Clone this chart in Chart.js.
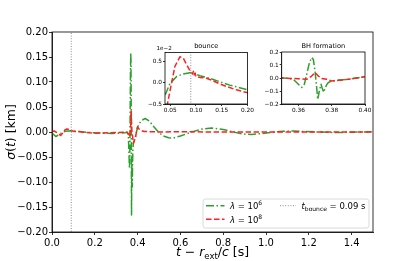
<!DOCTYPE html>
<html><head><meta charset="utf-8">
<script src="https://cdn.jsdelivr.net/npm/chart.js@4.4.1/dist/chart.umd.min.js"></script>
<style>
html,body{margin:0;padding:0;background:#fff;}
#wrap{position:relative;width:415px;height:261px;overflow:hidden;}
canvas{position:absolute;}
</style></head><body>
<div id="wrap">
<canvas id="main" width="415" height="261" style="left:0;top:0;width:415px;height:261px"></canvas>
<canvas id="bounce" width="130" height="84" style="left:125px;top:36px;width:130px;height:84px"></canvas>
<canvas id="bh" width="115" height="84" style="left:260px;top:36px;width:115px;height:84px"></canvas>
</div>
<script>
// ---------------- data ----------------
const tGreen = [0.000,0.005,0.018,0.030,0.040,0.0496,0.0626,0.0753,0.0882,0.0946,0.1075,0.1268,0.146,0.1653,0.1847,0.2006,0.24,0.28,0.32,0.34,0.35,
  0.354,0.357,0.360,0.362,0.3636,0.365,0.3666,0.368,0.369,0.370,0.371,0.3716,0.3726,0.3736,0.3742,0.3752,0.3762,0.3772,0.378,0.380,0.384,0.390,0.396,0.400,
  0.415,0.435,0.455,0.475,0.497,0.52,0.545,0.567,0.60,0.653,0.70,0.746,0.80,0.847,0.89,0.933,0.98,1.04,1.08,1.13,1.18,1.25,1.32,1.40,1.50];
const sigmaGreen = [-0.002,-0.004,-0.009,-0.006,-0.003,-0.0002,0.0014,0.0020,0.0023,0.0022,0.0016,0.0010,0.0002,-0.0006,-0.0012,-0.0017,-0.0024,-0.0028,-0.0025,-0.0015,-0.0005,
  -0.003,-0.010,-0.048,-0.073,-0.048,0.028,0.116,0.158,0.142,0.053,-0.073,-0.166,-0.100,-0.048,-0.073,-0.110,-0.073,-0.048,-0.035,-0.023,-0.018,-0.010,0.0025,0.010,
  0.022,0.027,0.022,0.011,0.0,-0.008,-0.0115,-0.012,-0.008,0.0,0.006,0.008,0.005,0.0,-0.004,-0.005,-0.003,0.0,0.0015,0.002,0.001,0.0,-0.001,-0.0005,0.0005];

const tRed = [0.000,0.010,0.030,0.040,0.0444,0.0529,0.0593,0.0689,0.0753,0.0818,0.0882,0.0934,0.0950,0.0965,0.0985,0.0998,0.1075,0.1204,0.1331,0.146,0.1589,0.1782,0.2006,0.24,0.30,0.35,
  0.360,0.365,0.368,0.370,0.372,0.374,0.377,0.380,0.384,0.390,0.396,0.400,0.410,0.430,0.50,0.60,0.80,1.00,1.20,1.50];
const sigmaRed = [0.001,0.002,-0.003,-0.007,-0.0052,0.0,0.0038,0.0060,0.0057,0.0042,0.0028,0.0020,0.0026,0.0018,0.0022,0.0014,0.0012,0.0010,0.0004,-0.0003,-0.0009,-0.0017,-0.0024,-0.002,-0.001,0.0,
  -0.005,-0.010,0.015,0.042,0.015,-0.003,-0.010,-0.023,-0.018,-0.010,0.0025,0.010,0.004,0.001,0.0,0.0005,0.0,0.0,0.0,0.0];

const tBounce = 0.09;
const seriesLabels = ['λ = 10^6', 'λ = 10^8', 't_bounce = 0.09 s'];

const mainXTicks = [0.0,0.2,0.4,0.6,0.8,1.0,1.2,1.4];
const mainXTickLabels = ['0.0','0.2','0.4','0.6','0.8','1.0','1.2','1.4'];
const mainYTicks = [-0.20,-0.15,-0.10,-0.05,0.00,0.05,0.10,0.15,0.20];
const mainYTickLabels = ['\u22120.20','\u22120.15','\u22120.10','\u22120.05','0.00','0.05','0.10','0.15','0.20'];

const bounceXTicks = [0.05,0.10,0.15,0.20];
const bounceXTickLabels = ['0.05','0.10','0.15','0.20'];
const bounceYTicks = [-0.005,0.0,0.005];
const bounceYTickLabels = ['\u22120.5','0.0','0.5'];

const bhXTicks = [0.36,0.38,0.40];
const bhXTickLabels = ['0.36','0.38','0.40'];
const bhYTicks = [-0.2,-0.1,0.0,0.1,0.2];
const bhYTickLabels = ['\u22120.2','\u22120.1','0.0','0.1','0.2'];

// ---------------- styles ----------------
const GREEN = '#2ca02c', RED = '#ff2020', GRAY = '#8c8c8c';
const DASHDOT = [8, 2.5, 1.5, 2.5], DASHED = [5.5, 2.5], DOTTED = [1, 1.6];
const FONT = "'DejaVu Sans'";

function pts(ts, vs){ return ts.map((t,i)=>({x:t,y:vs[i]})); }
function datasets(withBounce, lw){
  const d = [
    {label:seriesLabels[0], data:pts(tGreen,sigmaGreen), borderColor:GREEN, borderDash:DASHDOT, borderWidth:lw, order:2},
    {label:seriesLabels[1], data:pts(tRed,sigmaRed), borderColor:RED, borderDash:DASHED, borderWidth:lw, order:1}
  ];
  if (withBounce) d.push({label:seriesLabels[2], data:[{x:tBounce,y:-1},{x:tBounce,y:1}], borderColor:GRAY, borderDash:DOTTED, borderWidth:1, order:0});
  return d.map(x=>Object.assign(x,{pointRadius:0,fill:false,tension:0,borderJoinStyle:'round'}));
}
function axis(horiz, min, max, ticks, labels, fsize, tickLen, pad, size){
  return {
    type:'linear', min, max,
    afterBuildTicks: s => { s.ticks = ticks.map(v=>({value:v})); },
    afterFit: s => { if (horiz) s.height = size; else s.width = size; },
    ticks:{ autoSkip:false, maxRotation:0, padding:pad, color:'#000',
      font:{family:FONT, size:fsize}, callback:(v,i)=>labels[i] },
    grid:{ drawOnChartArea:false, drawTicks:true, tickLength:tickLen, tickColor:'#000', tickWidth:0.8 },
    border:{ display:true, color:'#000', width:0.8 }
  };
}
function rich(ctx, segs, x, y, align){
  let w = 0;
  segs.forEach(s=>{ ctx.font = (s.it?'italic ':'') + s.size + 'px ' + FONT; s.w = ctx.measureText(s.t).width; w += s.w; });
  let cx = align==='center' ? x - w/2 : x;
  ctx.textBaseline = 'alphabetic'; ctx.textAlign = 'left'; ctx.fillStyle = '#000';
  segs.forEach(s=>{ ctx.font = (s.it?'italic ':'') + s.size + 'px ' + FONT; ctx.fillText(s.t, cx, y + (s.dy||0)); cx += s.w; });
}
const framePlugin = {
  id:'frame',
  beforeDatasetsDraw(chart, a, opts){
    if (opts.white){ const c = chart.chartArea, ctx = chart.ctx; ctx.save(); ctx.fillStyle='#fff'; ctx.fillRect(c.left,c.top,c.right-c.left,c.bottom-c.top); ctx.restore(); }
  },
  afterDatasetsDraw(chart){
    const c = chart.chartArea, ctx = chart.ctx;
    ctx.save(); ctx.strokeStyle='#000'; ctx.lineWidth=0.8;
    ctx.strokeRect(c.left, c.top, c.right-c.left, c.bottom-c.top); ctx.restore();
  }
};
Chart.defaults.font.family = FONT;

// ---------------- main chart ----------------
const mainDecor = {
  id:'mainDecor',
  afterDraw(chart){
    const ctx = chart.ctx; ctx.save();
    // axis titles
    rich(ctx, [{t:'t',it:1,size:12.5},{t:' \u2212 ',size:12.5},{t:'r',it:1,size:12.5},{t:'ext',size:8.5,dy:2.5},{t:'/',size:12.5},{t:'c',it:1,size:12.5},{t:' [s]',size:12.5}], 212.5, 256, 'center');
    ctx.save(); ctx.translate(14.5, 132); ctx.rotate(-Math.PI/2);
    rich(ctx, [{t:'\u03c3',it:1,size:12.5},{t:'(',size:12.5},{t:'t',it:1,size:12.5},{t:')',size:12.5},{t:' [km]',size:12.5}], 0, 0, 'center');
    ctx.restore();
    // legend
    const bx=203, by=199, bw=166, bh=29, r=2.5;
    ctx.beginPath(); ctx.moveTo(bx+r,by); ctx.arcTo(bx+bw,by,bx+bw,by+bh,r); ctx.arcTo(bx+bw,by+bh,bx,by+bh,r); ctx.arcTo(bx,by+bh,bx,by,r); ctx.arcTo(bx,by,bx+bw,by,r); ctx.closePath();
    ctx.fillStyle='rgba(255,255,255,0.85)'; ctx.fill(); ctx.strokeStyle='#d0d0d0'; ctx.lineWidth=0.8; ctx.stroke();
    const sample=(x0,x1,y,col,dash,lw)=>{ctx.beginPath();ctx.setLineDash(dash);ctx.strokeStyle=col;ctx.lineWidth=lw;ctx.moveTo(x0,y);ctx.lineTo(x1,y);ctx.stroke();ctx.setLineDash([]);};
    const y1=205.7, y2=219.3;
    sample(206,224.5,y1,GREEN,DASHDOT,1.5);
    sample(206,224.5,y2,RED,DASHED,1.5);
    sample(280,296,y1,GRAY,DOTTED,1);
    rich(ctx, [{t:'\u03bb',it:1,size:8.5},{t:' = 10',size:8.5},{t:'6',size:6,dy:-3.5}], 230, y1+3.2, 'left');
    rich(ctx, [{t:'\u03bb',it:1,size:8.5},{t:' = 10',size:8.5},{t:'8',size:6,dy:-3.5}], 230, y2+3.2, 'left');
    rich(ctx, [{t:'t',it:1,size:8.5},{t:'bounce',size:6,dy:1.8},{t:' = 0.09 s',size:8.5}], 301.5, y1+3.2, 'left');
    ctx.restore();
  }
};
new Chart(document.getElementById('main'), {
  type:'line',
  data:{ datasets: datasets(true, 1.5) },
  options:{
    responsive:false, animation:false, devicePixelRatio:1,
    layout:{ padding:{top:32, right:42, left:0, bottom:0} },
    plugins:{ legend:{display:false}, tooltip:{enabled:false}, frame:{} },
    scales:{
      x: axis(true, 0, 1.5, mainXTicks, mainXTickLabels, 10, 3, 2, 29),
      y: axis(false, -0.2, 0.2, mainYTicks, mainYTickLabels, 10, 3, 1, 52)
    }
  },
  plugins:[framePlugin, mainDecor]
});

// ---------------- inset: bounce ----------------
const bounceDecor = {
  id:'bounceDecor',
  afterDraw(chart){
    const ctx = chart.ctx, c = chart.chartArea; ctx.save();
    rich(ctx, [{t:'bounce',size:6.6}], (c.left+c.right)/2, 12, 'center');
    rich(ctx, [{t:'1e\u22122',size:5.6}], 31.5, 14.3, 'left');
    ctx.restore();
  }
};
new Chart(document.getElementById('bounce'), {
  type:'line',
  data:{ datasets: datasets(true, 1.5) },
  options:{
    responsive:false, animation:false, devicePixelRatio:1,
    layout:{ padding:{top:16.5, right:7, left:0, bottom:0} },
    plugins:{ legend:{display:false}, tooltip:{enabled:false}, frame:{white:true} },
    scales:{
      x: axis(true, 0.04, 0.20, bounceXTicks, bounceXTickLabels, 5.8, 2, 1, 16),
      y: axis(false, -0.005, 0.007, bounceYTicks, bounceYTickLabels, 5.8, 2, 1, 40)
    }
  },
  plugins:[framePlugin, bounceDecor]
});

// ---------------- inset: BH formation ----------------
const bhDecor = {
  id:'bhDecor',
  afterDraw(chart){
    const ctx = chart.ctx, c = chart.chartArea; ctx.save();
    rich(ctx, [{t:'BH formation',size:6.6}], (c.left+c.right)/2, 12, 'center');
    ctx.restore();
  }
};
new Chart(document.getElementById('bh'), {
  type:'line',
  data:{ datasets: datasets(false, 1.5) },
  options:{
    responsive:false, animation:false, devicePixelRatio:1,
    layout:{ padding:{top:16, right:10, left:0, bottom:0} },
    plugins:{ legend:{display:false}, tooltip:{enabled:false}, frame:{white:true} },
    scales:{
      x: axis(true, 0.35, 0.40, bhXTicks, bhXTickLabels, 5.8, 2, 1, 16),
      y: axis(false, -0.2, 0.2, bhYTicks, bhYTickLabels, 5.8, 2, 1, 21.7)
    }
  },
  plugins:[framePlugin, bhDecor]
});
</script>
</body></html>
